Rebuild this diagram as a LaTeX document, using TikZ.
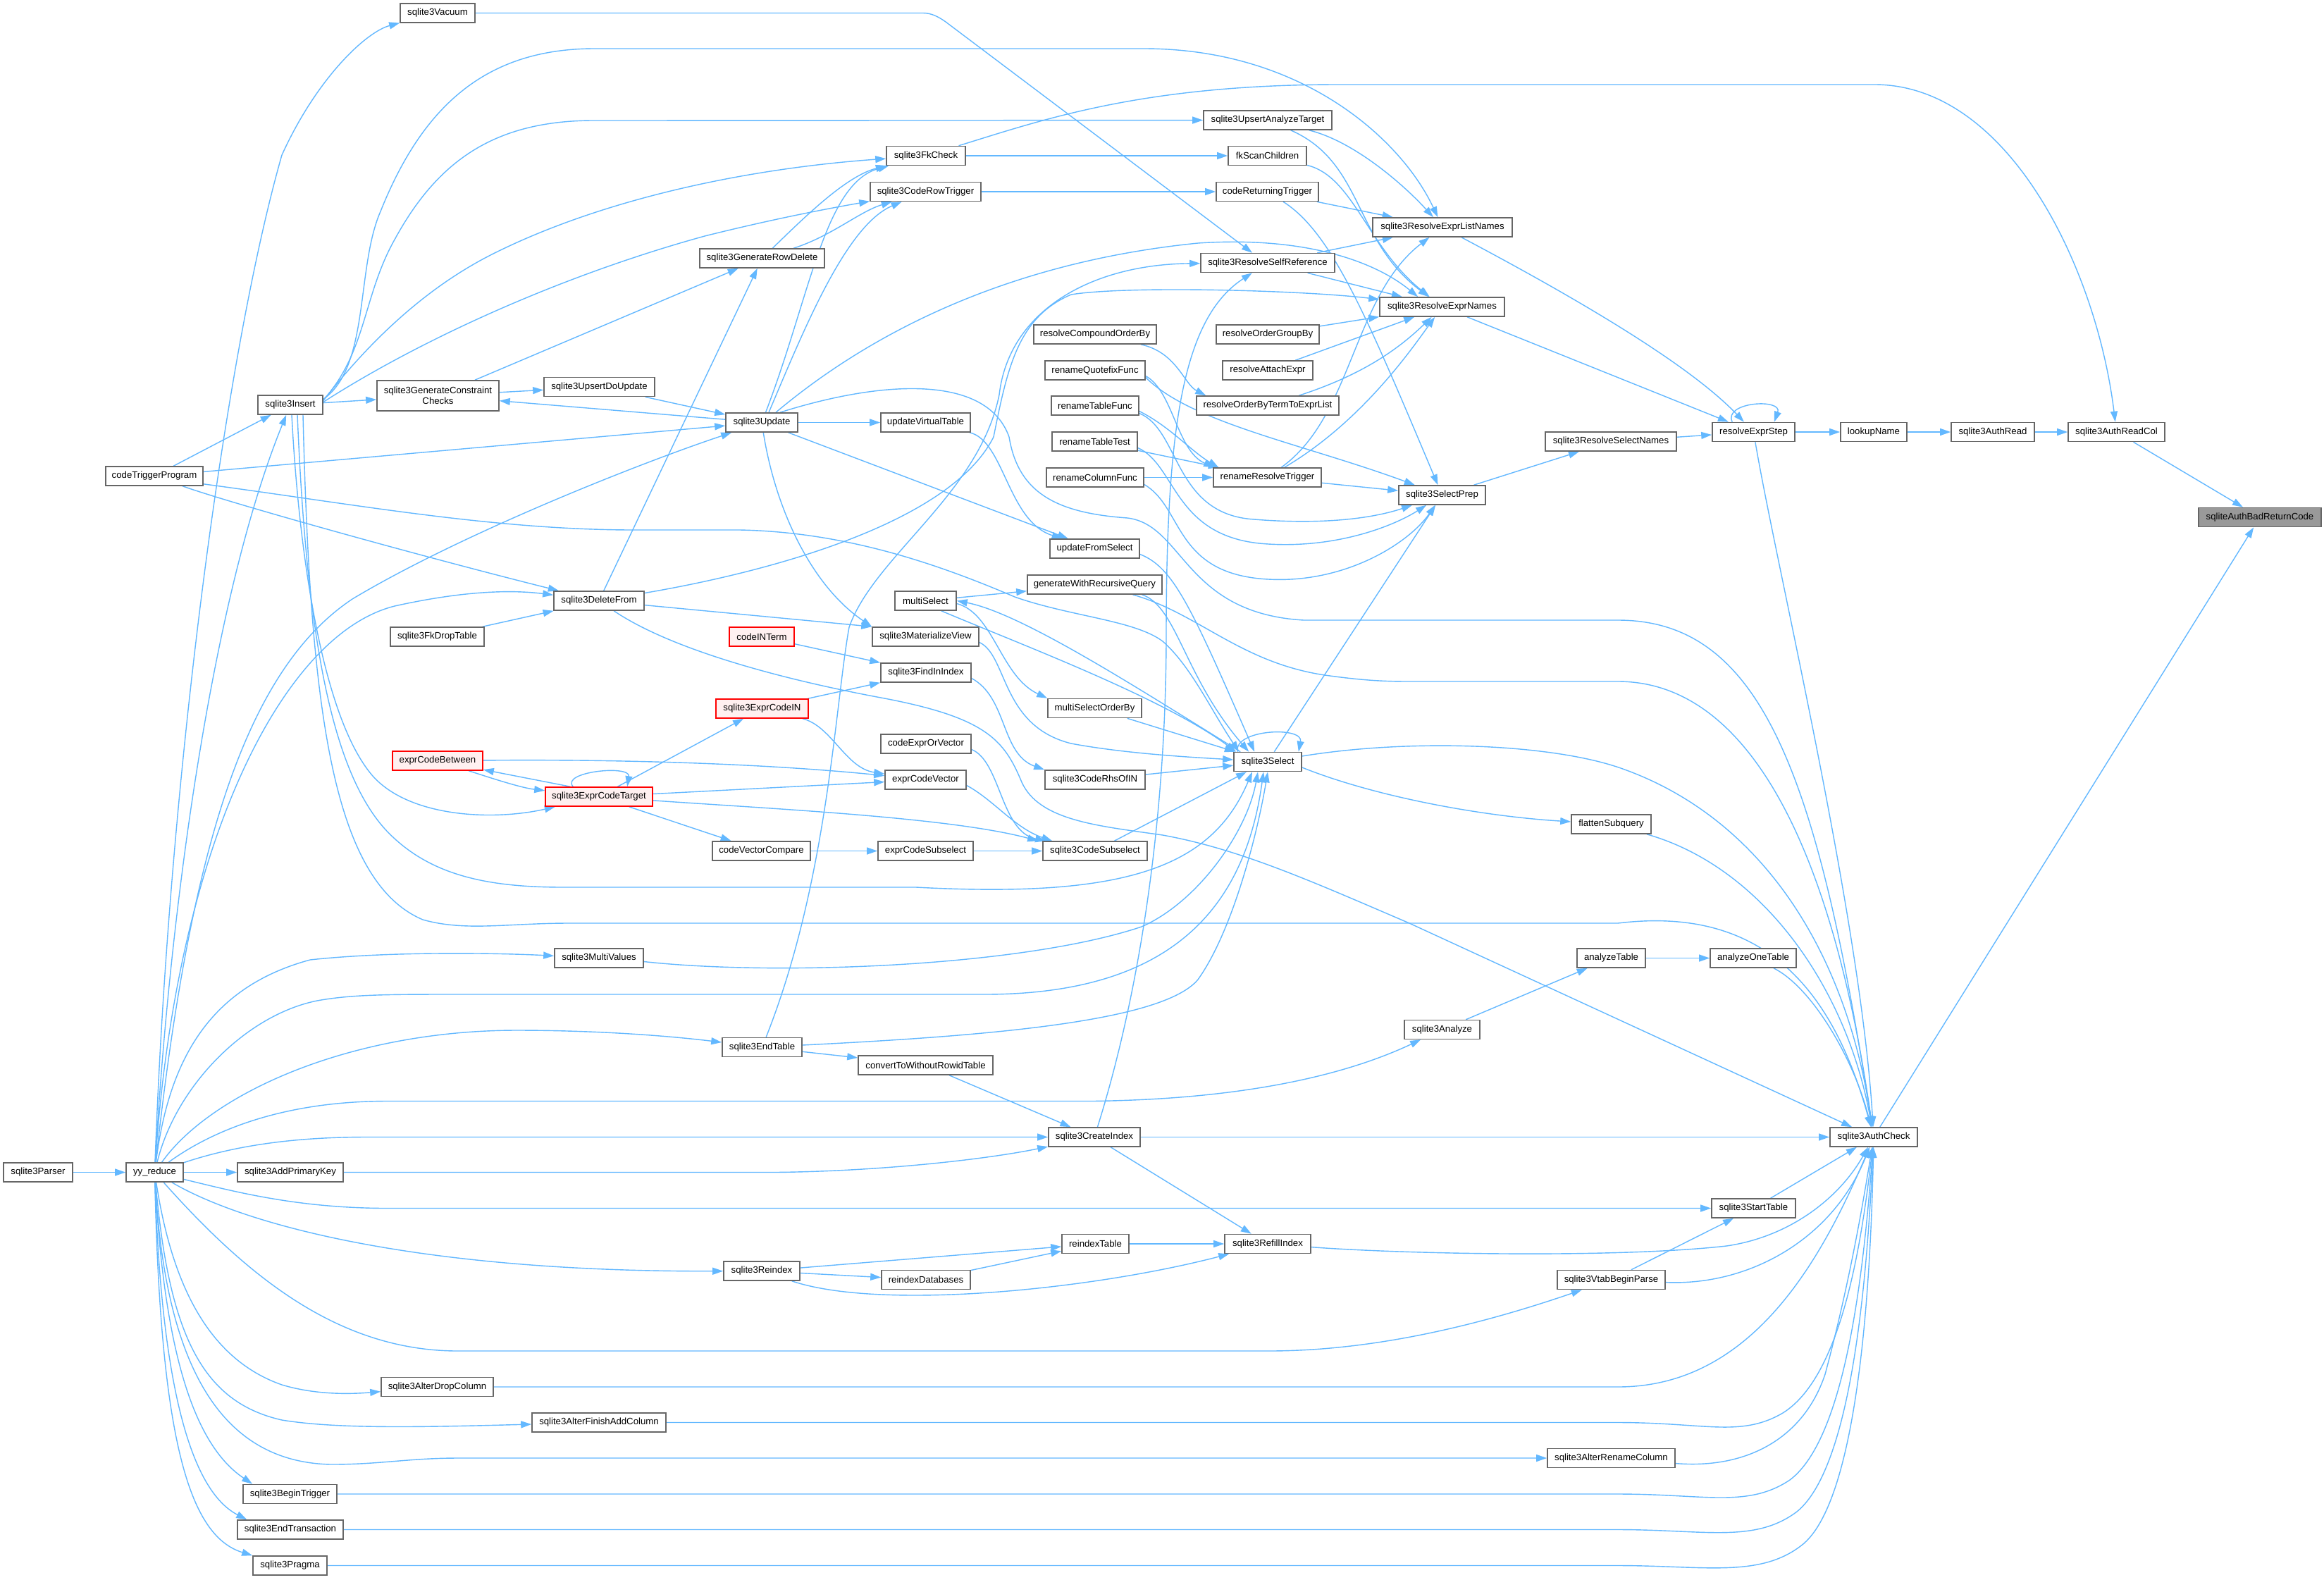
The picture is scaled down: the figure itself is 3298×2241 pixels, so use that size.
\documentclass[tikz,border=0pt]{standalone}
\usepackage{fontspec}
\setmainfont{Liberation Sans}
\usetikzlibrary{arrows.meta}
\definecolor{edgeblue}{HTML}{63B8FF}
\definecolor{boxgray}{HTML}{666666}
\definecolor{focusgray}{HTML}{999999}
\definecolor{truncfill}{HTML}{FFF0F0}
\pgfdeclarelayer{bglayer}
\pgfdeclarelayer{edgelayer}
\pgfsetlayers{bglayer,edgelayer,main}
\begin{document}
\begin{tikzpicture}[x=1pt,y=-1pt,
 fn/.style={draw=boxgray,fill=white,line width=1.6pt,inner sep=0pt,minimum height=27pt,font=\fontsize{13.2}{15.3}\selectfont,text=black,align=center},
 focusnode/.style={fn,fill=focusgray},
 truncnode/.style={fn,draw=red,fill=truncfill},
 edg/.style={draw=edgeblue,line width=1.4pt,-{Triangle[length=15pt,width=10pt]}}]
\begin{pgfonlayer}{bglayer}
\fill[white] (0,0) rectangle (3298,2241);
\end{pgfonlayer}
\useasboundingbox (0,0) rectangle (3298,2241);

% ---------- nodes ----------
\node[focusnode,minimum width=174pt] (bad) at (3207,734) {sqliteAuthBadReturnCode};
\node[fn,minimum width=137pt] (readcol) at (3003.5,613) {sqlite3AuthReadCol};
\node[fn,minimum width=118pt] (authread) at (2828,613) {sqlite3AuthRead};
\node[fn,minimum width=94pt] (lookup) at (2659,613) {lookupName};
\node[fn,minimum width=117pt] (step) at (2488.5,613) {resolveExprStep};
\node[fn,minimum width=186pt] (selnames) at (2286,626.5) {sqlite3ResolveSelectNames};
\node[fn,minimum width=123pt] (selprep) at (2046.5,702.5) {sqlite3SelectPrep};
\node[fn,minimum width=198pt] (listnames) at (2047,322.5) {sqlite3ResolveExprListNames};
\node[fn,minimum width=177pt] (exprnames) at (2046.5,435.5) {sqlite3ResolveExprNames};
\node[fn,minimum width=182pt] (upsertan) at (1799,170.5) {sqlite3UpsertAnalyzeTarget};
\node[fn,minimum width=111pt] (fkscan) at (1798.5,221) {fkScanChildren};
\node[fn,minimum width=145pt] (coderet) at (1798.5,272) {codeReturningTrigger};
\node[fn,minimum width=190pt] (selfref) at (1799,373) {sqlite3ResolveSelfReference};
\node[fn,minimum width=146pt] (ordergroup) at (1799,474.5) {resolveOrderGroupBy};
\node[fn,minimum width=128pt] (attach) at (1799,525.5) {resolveAttachExpr};
\node[fn,minimum width=202pt] (orderbyterm) at (1799,575.5) {resolveOrderByTermToExprList};
\node[fn,minimum width=153pt] (renametrig) at (1798.5,677.5) {renameResolveTrigger};
\node[fn,minimum width=174pt] (compound) at (1554,474.5) {resolveCompoundOrderBy};
\node[fn,minimum width=142pt] (quotefix) at (1554,525.5) {renameQuotefixFunc};
\node[fn,minimum width=124pt] (tablefunc) at (1554,575.5) {renameTableFunc};
\node[fn,minimum width=121pt] (tabletest) at (1553.5,626.5) {renameTableTest};
\node[fn,minimum width=138pt] (columnfunc) at (1554,677.5) {renameColumnFunc};
\node[fn,minimum width=106pt] (vacuum) at (621,18.5) {sqlite3Vacuum};
\node[fn,minimum width=112pt] (fkcheck) at (1314,221) {sqlite3FkCheck};
\node[fn,minimum width=157pt] (coderow) at (1313.5,272) {sqlite3CodeRowTrigger};
\node[fn,minimum width=177pt] (rowdelete) at (1081.5,366.5) {sqlite3GenerateRowDelete};
\node[fn,minimum width=92pt] (insert) at (412,574.5) {sqlite3Insert};
\node[fn,minimum width=173pt,minimum height=43pt] (constraint) at (621.5,561.5) {sqlite3GenerateConstraint\\Checks};
\node[fn,minimum width=157pt] (upsertdo) at (850.5,549) {sqlite3UpsertDoUpdate};
\node[fn,minimum width=102pt] (update) at (1081,599.5) {sqlite3Update};
\node[fn,minimum width=127pt] (updatevt) at (1313.5,599.5) {updateVirtualTable};
\node[fn,minimum width=127pt] (updfromsel) at (1553.5,778.5) {updateFromSelect};
\node[fn,minimum width=191pt] (genrec) at (1553.5,829.5) {generateWithRecursiveQuery};
\node[fn,minimum width=87pt] (multisel) at (1313.5,852.5) {multiSelect};
\node[fn,minimum width=151pt] (matview) at (1313.5,903.5) {sqlite3MaterializeView};
\node[truncnode,minimum width=92pt] (codeinterm) at (1081,903.5) {codeINTerm};
\node[fn,minimum width=128pt] (findinidx) at (1314,954.5) {sqlite3FindInIndex};
\node[truncnode,minimum width=131pt] (codein) at (1081.5,1005.5) {sqlite3ExprCodeIN};
\node[fn,minimum width=133pt] (msorderby) at (1553.5,1005) {multiSelectOrderBy};
\node[fn,minimum width=128pt] (codeexprorvec) at (1314,1055.5) {codeExprOrVector};
\node[fn,minimum width=142pt] (rhsofin) at (1554,1106.5) {sqlite3CodeRhsOfIN};
\node[truncnode,minimum width=128pt] (between) at (621,1079.5) {exprCodeBetween};
\node[fn,minimum width=115pt] (exprcodevec) at (1313.5,1106.5) {exprCodeVector};
\node[truncnode,minimum width=152pt] (codetarget) at (850,1130.5) {sqlite3ExprCodeTarget};
\node[fn,minimum width=96pt] (select) at (1799,1081) {sqlite3Select};
\node[fn,minimum width=139pt] (veccompare) at (1080.5,1207.5) {codeVectorCompare};
\node[fn,minimum width=135pt] (exprcodesubsel) at (1313.5,1207.5) {exprCodeSubselect};
\node[fn,minimum width=148pt] (codesubsel) at (1554,1207.5) {sqlite3CodeSubselect};
\node[fn,minimum width=113pt] (flatten) at (2286.5,1169.5) {flattenSubquery};
\node[fn,minimum width=138pt] (codetrigprog) at (219,675.5) {codeTriggerProgram};
\node[fn,minimum width=128pt] (deletefrom) at (850,852.5) {sqlite3DeleteFrom};
\node[fn,minimum width=133pt] (fkdrop) at (620.5,903.5) {sqlite3FkDropTable};
\node[fn,minimum width=126pt] (multivalues) at (850,1359.5) {sqlite3MultiValues};
\node[fn,minimum width=97pt] (analyzetable) at (2286.5,1359.5) {analyzeTable};
\node[fn,minimum width=122pt] (analyzeone) at (2488,1359.5) {analyzeOneTable};
\node[fn,minimum width=107pt] (analyze) at (2046.5,1461) {sqlite3Analyze};
\node[fn,minimum width=113pt] (endtable) at (1081.5,1486) {sqlite3EndTable};
\node[fn,minimum width=191pt] (convert) at (1313.5,1511.5) {convertToWithoutRowidTable};
\node[fn,minimum width=130pt] (createindex) at (1553,1613.5) {sqlite3CreateIndex};
\node[fn,minimum width=124pt] (authcheck) at (2659,1613.5) {sqlite3AuthCheck};
\node[fn,minimum width=98pt] (parser) at (54,1663.5) {sqlite3Parser};
\node[fn,minimum width=81pt] (yyreduce) at (219.5,1663.5) {yy\_reduce};
\node[fn,minimum width=150pt] (addpk) at (412,1663.5) {sqlite3AddPrimaryKey};
\node[fn,minimum width=119pt] (starttable) at (2488.5,1714.5) {sqlite3StartTable};
\node[fn,minimum width=95pt] (reindextable) at (1554.5,1765) {reindexTable};
\node[fn,minimum width=122pt] (refill) at (1799,1765) {sqlite3RefillIndex};
\node[fn,minimum width=108pt] (reindex) at (1081,1803.5) {sqlite3Reindex};
\node[fn,minimum width=126pt] (reindexdbs) at (1314,1816) {reindexDatabases};
\node[fn,minimum width=153pt] (vtabbegin) at (2286.5,1816) {sqlite3VtabBeginParse};
\node[fn,minimum width=159pt] (dropcol) at (620.5,1968) {sqlite3AlterDropColumn};
\node[fn,minimum width=190pt] (finishadd) at (850,2018.5) {sqlite3AlterFinishAddColumn};
\node[fn,minimum width=181pt] (renamecol) at (2286.5,2069) {sqlite3AlterRenameColumn};
\node[fn,minimum width=133pt] (begintrig) at (411.5,2120) {sqlite3BeginTrigger};
\node[fn,minimum width=150pt] (endtrans) at (412,2170.5) {sqlite3EndTransaction};
\node[fn,minimum width=105pt] (pragma) at (411.5,2221.5) {sqlite3Pragma};

% ---------- edges ----------
\begin{pgfonlayer}{edgelayer}
% right part
\draw[edg] (readcol) -- (bad);
\draw[edg] (authcheck) -- (bad);
\draw[edg] (authread) -- (readcol);
\draw[edg] (lookup) -- (authread);
\draw[edg] (step) -- (lookup);
\draw[edg] ([xshift=29pt]step.north west) .. controls (2445,570) and (2530,565) .. ([xshift=-30pt]step.north east);
\draw[edg] (listnames) .. controls (2250,430) and (2400,520) .. (step);
\draw[edg] (exprnames) -- (step);
\draw[edg] (selnames) -- (step);
\draw[edg] (selprep) -- (selnames);
\draw[edg] (step) .. controls (2520,800) and (2640,1300) .. (authcheck);
\draw[edg] (fkcheck) .. controls (1480,170) and (1620,120) .. (1900,120) -- (2660,120) .. controls (2850,120) and (2975,380) .. (readcol);

% sqlite3Insert
\draw[edg] ([yshift=8pt]insert.east) .. controls (525,520) and (505,380) .. (540,300) .. controls (600,150) and (690,69) .. (844,69) -- (1623,69) .. controls (1850,69) and (1990,200) .. (listnames);
\draw[edg] ([yshift=7pt]insert.east) .. controls (520,500) and (515,420) .. (560,340) .. controls (620,230) and (700,171) .. (843,171) -- (upsertan);
\draw[edg] ([yshift=6pt]insert.east) .. controls (520,490) and (600,410) .. (700,360) .. controls (850,285) and (1050,240) .. (fkcheck);
\draw[edg] ([yshift=4pt]insert.east) .. controls (600,480) and (800,390) .. (1000,335) .. controls (1100,310) and (1180,295) .. (coderow);
\draw[edg] (insert) -- (constraint);
\draw[edg] ([xshift=2pt]insert.south) .. controls (425,800) and (460,1020) .. (528,1100) .. controls (580,1160) and (700,1165) .. (codetarget);
\draw[edg] ([xshift=10pt]insert.south) .. controls (435,900) and (470,1110) .. (560,1190) .. controls (620,1245) and (700,1259) .. (800,1259) -- (1300,1259) .. controls (1600,1275) and (1720,1230) .. ([xshift=-22pt]select.south);
\draw[edg] ([xshift=18pt]insert.south) .. controls (440,1000) and (470,1250) .. (600,1305) .. controls (660,1322) and (720,1310) .. (807,1310) -- (2296,1310) .. controls (2500,1285) and (2600,1400) .. (authcheck);

% constraint checks / update
\draw[edg] (constraint) -- (rowdelete);
\draw[edg] (constraint) -- (upsertdo);
\draw[edg] (upsertdo) -- (update);
\draw[edg] (update) -- (constraint);
\draw[edg] (codetrigprog) -- (update);
\draw[edg] (codetrigprog) -- (insert);
\draw[edg] (codetrigprog) .. controls (330,715) and (600,790) .. (deletefrom);
\draw[edg] ([yshift=3pt]codetrigprog.south east) .. controls (500,715) and (700,752) .. (900,752) -- (1050,752) .. controls (1200,755) and (1330,800) .. (1440,847) .. controls (1520,875) and (1610,880) .. (1650,910) .. controls (1690,945) and (1720,1010) .. ([xshift=8pt]select.north west);
\draw[edg] (update) -- (updatevt);
\draw[edg] (update) -- (updfromsel);
\draw[edg] (updatevt) .. controls (1425,625) and (1430,740) .. (updfromsel);
\draw[edg] (update) .. controls (1150,420) and (1170,260) .. (fkcheck);
\draw[edg] ([xshift=10pt]update.north) .. controls (1140,470) and (1200,320) .. (coderow);
\draw[edg] ([xshift=20pt]update.north) .. controls (1250,460) and (1450,370) .. (1700,345) .. controls (1850,335) and (1950,370) .. ([xshift=55pt]exprnames.north west);
\draw[edg] ([xshift=26pt]update.north) .. controls (1250,540) and (1400,530) .. (1432,620) .. controls (1445,700) and (1500,728) .. (1600,735) .. controls (1680,745) and (1680,870) .. (1850,880) -- (2296,880) .. controls (2500,880) and (2580,1100) .. (authcheck);
\draw[edg] (update) .. controls (1100,720) and (1150,830) .. (matview.north west);

% delete
\draw[edg] (deletefrom) -- (matview.north west);
\draw[edg] (deletefrom) -- (rowdelete);
\draw[edg] (deletefrom) .. controls (1100,810) and (1350,740) .. (1410,620) .. controls (1430,520) and (1445,450) .. (1520,418) .. controls (1600,405) and (1850,412) .. (exprnames);
\draw[edg] (deletefrom) .. controls (950,920) and (1100,962) .. (1250,990) .. controls (1400,1018) and (1425,1050) .. (1450,1110) .. controls (1475,1165) and (1560,1172) .. (1650,1185) .. controls (1760,1205) and (1860,1250) .. (2000,1310) -- (authcheck);
\draw[edg] (fkdrop) -- (deletefrom);

% self reference
\draw[edg] (endtable) .. controls (1175,1250) and (1185,1000) .. (1205,890) .. controls (1240,790) and (1390,700) .. (1418,560) .. controls (1432,440) and (1550,375) .. (selfref);
\draw[edg] (createindex) .. controls (1620,1400) and (1655,1150) .. (1655,900) .. controls (1655,600) and (1680,450) .. (selfref);
\draw[edg] (vacuum) -- (1310,18.5) .. controls (1322,18.5) and (1332,24) .. (1342,31) -- ([xshift=-22pt]selfref.north);

% fk / triggers
\draw[edg] (fkcheck) -- (fkscan);
\draw[edg] (coderow) -- (coderet);
\draw[edg] (rowdelete) .. controls (1140,310) and (1200,250) .. (fkcheck);
\draw[edg] (rowdelete) .. controls (1180,335) and (1220,300) .. (coderow);

% resolver
\draw[edg] (coderet) -- (listnames);
\draw[edg] (coderet) .. controls (1890,330) and (1940,450) .. (selprep);
\draw[edg] (upsertan) .. controls (1920,200) and (1990,260) .. (listnames);
\draw[edg] (upsertan) .. controls (1935,230) and (1920,340) .. (exprnames);
\draw[edg] (fkscan) .. controls (1920,250) and (1940,350) .. (exprnames);
\draw[edg] (selfref) -- (listnames);
\draw[edg] (selfref) -- (exprnames);
\draw[edg] (ordergroup) -- (exprnames);
\draw[edg] (attach) -- (exprnames);
\draw[edg] (orderbyterm) .. controls (1940,530) and (1990,490) .. (exprnames);
\draw[edg] (compound) .. controls (1670,500) and (1680,545) .. ([xshift=14pt]orderbyterm.north west);
\draw[edg] (renametrig) .. controls (1920,590) and (1920,420) .. (listnames);
\draw[edg] (renametrig) .. controls (1930,600) and (2000,500) .. (exprnames);
\draw[edg] (renametrig) -- (selprep);

% rename functions
\draw[edg] ([yshift=-8pt]quotefix.east) .. controls (1665,555) and (1670,640) .. ([xshift=2pt]renametrig.north west);
\draw[edg] ([yshift=-10pt]quotefix.east) .. controls (1690,600) and (1850,630) .. (selprep);
\draw[edg] ([yshift=-8pt]tablefunc.east) .. controls (1660,605) and (1690,640) .. ([xshift=8pt]renametrig.north west);
\draw[edg] ([yshift=-11pt]tablefunc.east) .. controls (1675,610) and (1665,730) .. (1780,737) .. controls (1880,745) and (1950,735) .. (selprep);
\draw[edg] (tabletest) -- (renametrig);
\draw[edg] ([yshift=-9pt]tabletest.east) .. controls (1670,660) and (1665,765) .. (1800,772) .. controls (1900,778) and (1980,745) .. (selprep);
\draw[edg] (columnfunc) -- (renametrig);
\draw[edg] ([yshift=-10pt]columnfunc.east) .. controls (1680,720) and (1665,815) .. (1800,822) .. controls (1910,828) and (2000,770) .. (selprep);

% select
\draw[edg] (select) -- (selprep);
\draw[edg] ([xshift=6pt]select.north west) .. controls (1750,1035) and (1850,1030) .. ([xshift=-5pt]select.north east);
\draw[edg] ([xshift=10pt]select.north west) .. controls (1620,980) and (1450,870) .. (multisel.east);
\draw[edg] ([xshift=-22pt]multisel.south east) .. controls (1450,915) and (1650,990) .. ([xshift=4pt]select.north west);
\draw[edg] (multisel) -- (genrec);
\draw[edg] ([yshift=-4pt]multisel.east) .. controls (1410,870) and (1420,960) .. (msorderby.north west);
\draw[edg] ([xshift=67pt]genrec.south) .. controls (1670,860) and (1680,960) .. ([xshift=22pt]select.north west);
\draw[edg] ([xshift=54pt]genrec.south) .. controls (1700,870) and (1760,940) .. (1880,958) .. controls (1930,965) and (1960,967) .. (2000,967) -- (2296,967) .. controls (2480,967) and (2600,1200) .. (authcheck);
\draw[edg] ([yshift=-8pt]updfromsel.east) .. controls (1665,805) and (1690,860) .. ([xshift=30pt]select.north west);
\draw[edg] (msorderby) -- (select);
\draw[edg] (rhsofin) -- (select);
\draw[edg] ([yshift=-8pt]matview.east) .. controls (1430,930) and (1420,1030) .. (1520,1055) .. controls (1600,1070) and (1700,1075) .. (select);
\draw[edg] ([yshift=-8pt]findinidx.east) .. controls (1430,990) and (1420,1070) .. (rhsofin.north west);
\draw[edg] (codeinterm) -- (findinidx);
\draw[edg] (codein) -- (findinidx);
\draw[edg] (codein) .. controls (1180,1030) and (1200,1090) .. (exprcodevec);
\draw[edg] (codetarget) -- (codein);
\draw[edg] ([xshift=40pt]codetarget.north west) .. controls (795,1095) and (895,1085) .. ([xshift=117pt]codetarget.north west);
\draw[edg] ([xshift=36pt]codetarget.north west) -- (between);
\draw[edg] (between) .. controls (700,1105) and (740,1118) .. (codetarget);
\draw[edg] (between) .. controls (900,1077) and (1100,1085) .. (exprcodevec);
\draw[edg] (codetarget) -- (exprcodevec);
\draw[edg] (codetarget) .. controls (1100,1148) and (1350,1160) .. ([xshift=-6pt]codesubsel.north west);
\draw[edg] (codetarget) -- (veccompare);
\draw[edg] ([yshift=-8pt]codeexprorvec.east) .. controls (1420,1080) and (1420,1180) .. ([xshift=5pt]codesubsel.north west);
\draw[edg] ([yshift=-8pt]exprcodevec.east) .. controls (1410,1135) and (1440,1175) .. ([xshift=14pt]codesubsel.north west);
\draw[edg] (veccompare) -- (exprcodesubsel);
\draw[edg] (exprcodesubsel) -- (codesubsel);
\draw[edg] (codesubsel) -- ([xshift=-30pt]select.south);
\draw[edg] (select) .. controls (2000,1048) and (2200,1055) .. (2300,1090) .. controls (2500,1160) and (2620,1350) .. (authcheck);
\draw[edg] ([yshift=-8pt]select.east) .. controls (1950,1130) and (2100,1158) .. (flatten);
\draw[edg] (flatten) .. controls (2500,1230) and (2620,1400) .. (authcheck);
\draw[edg] ([yshift=-5pt]multivalues.east) .. controls (1100,1385) and (1450,1372) .. (1620,1315) .. controls (1700,1280) and (1770,1180) .. ([xshift=-14pt]select.south);
\draw[edg] ([yshift=3pt]endtable.east) .. controls (1400,1470) and (1650,1450) .. (1700,1390) .. controls (1750,1320) and (1785,1180) .. (select.south);

% analyze / index
\draw[edg] (analyzetable) -- (analyzeone);
\draw[edg] (analyze) -- (analyzetable);
\draw[edg] (analyzeone) .. controls (2570,1400) and (2630,1500) .. (authcheck);
\draw[edg] (createindex) -- (authcheck);
\draw[edg] (createindex) -- (refill);
\draw[edg] (convert) -- (createindex);
\draw[edg] (endtable) -- (convert);
\draw[edg] (starttable) -- (authcheck);
\draw[edg] (vtabbegin) -- (starttable);
\draw[edg] (vtabbegin) .. controls (2480,1825) and (2600,1760) .. (authcheck);
\draw[edg] (refill) .. controls (2000,1780) and (2300,1785) .. (2450,1768) .. controls (2540,1755) and (2610,1700) .. (authcheck);
\draw[edg] (reindextable) -- (refill);
\draw[edg] (reindex) -- (reindextable);
\draw[edg] (reindex) -- (reindexdbs);
\draw[edg] (reindexdbs) -- (reindextable);
\draw[edg] (reindex) .. controls (1250,1860) and (1550,1830) .. (refill);

% bottom callers of AuthCheck
\draw[edg] (dropcol) -- (2296,1968) .. controls (2480,1968) and (2580,1800) .. (authcheck);
\draw[edg] (finishadd) -- (2296,2018.5) .. controls (2420,2018.5) and (2470,2040) .. (2530,2005) .. controls (2610,1955) and (2640,1780) .. (authcheck);
\draw[edg] (renamecol) .. controls (2480,2085) and (2560,2040) .. (2590,1950) .. controls (2625,1820) and (2645,1700) .. (authcheck);
\draw[edg] (begintrig) -- (2296,2120) .. controls (2420,2120) and (2480,2140) .. (2540,2100) .. controls (2620,2040) and (2645,1800) .. (authcheck);
\draw[edg] (endtrans) -- (2296,2170.5) .. controls (2420,2170.5) and (2490,2190) .. (2550,2145) .. controls (2630,2080) and (2650,1800) .. (authcheck);
\draw[edg] (pragma) -- (2296,2221.5) .. controls (2420,2221.5) and (2500,2240) .. (2560,2190) .. controls (2640,2120) and (2655,1800) .. (authcheck);

% yy_reduce
\draw[edg] (parser) -- (yyreduce);
\draw[edg] (yyreduce) -- (addpk);
\draw[edg] (addpk) -- (1100,1663.5) .. controls (1250,1662) and (1400,1645) .. (createindex);
\draw[edg] (yyreduce) .. controls (320,1630) and (400,1613.5) .. (520,1613.5) -- (createindex);
\draw[edg] (yyreduce) .. controls (300,1605) and (400,1562.5) .. (550,1562.5) -- (1550,1562.5) .. controls (1750,1560) and (1900,1530) .. (analyze);
\draw[edg] (yyreduce) .. controls (330,1690) and (420,1714.5) .. (550,1714.5) -- (starttable);
\draw[edg] (yyreduce) .. controls (350,1740) and (600,1805) .. (reindex);
\draw[edg] (yyreduce) .. controls (350,1810) and (480,1917) .. (650,1917) -- (1800,1917) .. controls (1950,1917) and (2100,1880) .. (vtabbegin);
\draw[edg] (yyreduce) .. controls (245,1830) and (300,1930) .. (400,1965) .. controls (450,1980) and (500,1978) .. (dropcol);
\draw[edg] (yyreduce) .. controls (240,1900) and (290,1990) .. (400,2015) .. controls (480,2028) and (600,2025) .. (finishadd);
\draw[edg] (yyreduce) .. controls (235,1950) and (320,2075) .. (470,2078) .. controls (540,2078) and (580,2069) .. (650,2069) -- (renamecol);
\draw[edg] (yyreduce) .. controls (235,1960) and (290,2060) .. ([xshift=14pt]begintrig.north west);
\draw[edg] (yyreduce) .. controls (230,2000) and (280,2120) .. ([xshift=14pt]endtrans.north west);
\draw[edg] (yyreduce) .. controls (228,2050) and (270,2180) .. (pragma.north west);
\draw[edg] (yyreduce) .. controls (300,1550) and (500,1462) .. (733,1462) .. controls (850,1462) and (950,1470) .. (endtable);
\draw[edg] (yyreduce) .. controls (240,1500) and (300,1400) .. (440,1362) .. controls (550,1350) and (700,1352) .. (multivalues);
\draw[edg] (yyreduce) .. controls (250,1540) and (350,1440) .. (450,1420) .. controls (500,1411) and (550,1411) .. (650,1411) -- (1400,1411) .. controls (1650,1410) and (1765,1300) .. ([xshift=-6pt]select.south);
\draw[edg] (yyreduce) .. controls (250,1200) and (400,900) .. (560,860) .. controls (650,840) and (720,836) .. (deletefrom);
\draw[edg] (yyreduce) .. controls (270,1200) and (350,950) .. (500,850) .. controls (650,760) and (900,660) .. (update);
\draw[edg] (yyreduce) .. controls (240,1300) and (300,850) .. (insert);
\draw[edg] (yyreduce) .. controls (240,1100) and (320,500) .. (400,220) .. controls (450,110) and (520,45) .. (vacuum);
\end{pgfonlayer}
\end{tikzpicture}
\end{document}
